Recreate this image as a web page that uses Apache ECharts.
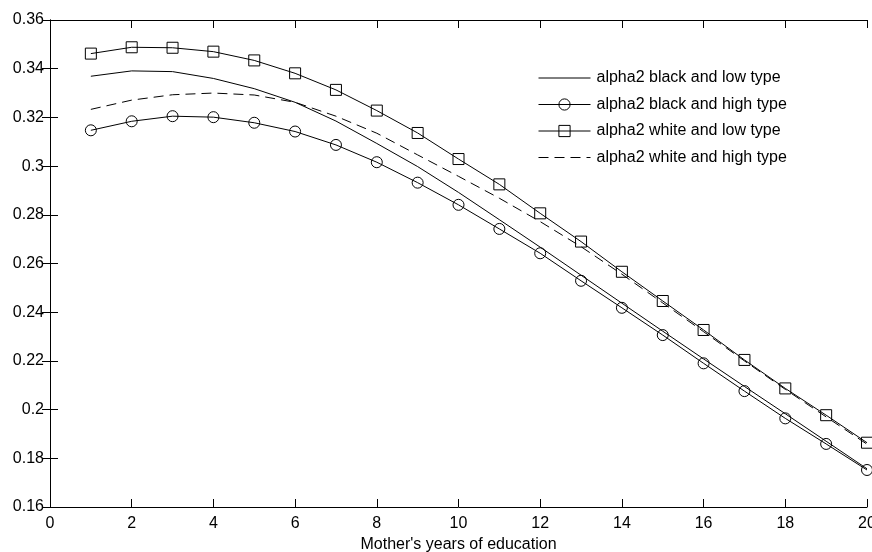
<!DOCTYPE html>
<html>
<head>
<meta charset="utf-8">
<script src="https://cdn.jsdelivr.net/npm/echarts@6/dist/echarts.min.js"></script>
<style>
  html, body { margin: 0; padding: 0; background: #fff; }
  #chart { width: 872px; height: 552px; }
</style>
</head>
<body>
<div id="chart"></div>
<script>
// Mother's years of education (x values)
const years = [1, 2, 3, 4, 5, 6, 7, 8, 9, 10, 11, 12, 13, 14, 15, 16, 17, 18, 19, 20];

// alpha2 estimates by group
const blackLow  = [0.3369, 0.3391, 0.3388, 0.3360, 0.3318, 0.3262, 0.3185, 0.3093, 0.2998, 0.2892,
                   0.2780, 0.2667, 0.2552, 0.2437, 0.2322, 0.2208, 0.2095, 0.1983, 0.1870, 0.1757];
const blackHigh = [0.3147, 0.3184, 0.3205, 0.3201, 0.3178, 0.3142, 0.3087, 0.3016, 0.2932, 0.2841,
                   0.2742, 0.2642, 0.2529, 0.2418, 0.2306, 0.2190, 0.2076, 0.1964, 0.1859, 0.1752];
const whiteLow  = [0.3462, 0.3488, 0.3486, 0.3470, 0.3434, 0.3381, 0.3313, 0.3228, 0.3136, 0.3029,
                   0.2925, 0.2806, 0.2690, 0.2566, 0.2446, 0.2327, 0.2204, 0.2087, 0.1977, 0.1864];
const whiteHigh = [0.3233, 0.3271, 0.3293, 0.3300, 0.3292, 0.3262, 0.3205, 0.3135, 0.3046, 0.2958,
                   0.2868, 0.2772, 0.2669, 0.2556, 0.2438, 0.2320, 0.2200, 0.2083, 0.1970, 0.1858];

const seriesNames = [
  'alpha2 black and low type',
  'alpha2 black and high type',
  'alpha2 white and low type',
  'alpha2 white and high type'
];

// x tick labels / y tick labels
const xTicks = [0, 2, 4, 6, 8, 10, 12, 14, 16, 18, 20];
const yTicks = [0.16, 0.18, 0.2, 0.22, 0.24, 0.26, 0.28, 0.3, 0.32, 0.34, 0.36];

const pairs = vals => years.map((x, i) => [x, vals[i]]);

const FONT = 'Liberation Sans';
const axisLineStyle = { color: '#000', width: 1 };
const hollow = { color: 'rgba(0,0,0,0)', borderColor: '#000', borderWidth: 1 };
const invisible = { color: 'rgba(0,0,0,0)', borderColor: 'rgba(0,0,0,0)', borderWidth: 0 };

function baseSeries(name, vals, extra) {
  return Object.assign({
    name: name,
    type: 'line',
    data: pairs(vals),
    clip: false,
    animation: false,
    symbol: 'circle',
    symbolSize: 0,
    showSymbol: false,
    lineStyle: { color: '#000', width: 1 },
    itemStyle: invisible
  }, extra);
}

const chart = echarts.init(document.getElementById('chart'), null, { renderer: 'canvas' });
chart.setOption({
  backgroundColor: '#fff',
  animation: false,
  grid: { left: 50, right: 5, top: 20, bottom: 45, containLabel: false, outerBoundsMode: 'none' },
  legend: {
    orient: 'vertical',
    left: 538,
    top: 70,
    itemWidth: 52,
    itemHeight: 14,
    itemGap: 10.5,
    padding: 0,
    lineStyle: { width: 1 },
    itemStyle: { borderWidth: 1 },
    textStyle: { fontFamily: FONT, fontSize: 16, color: '#000', padding: [0, 0, 0, 1] },
    data: seriesNames
  },
  xAxis: [
    {
      type: 'value', min: xTicks[0], max: xTicks[xTicks.length - 1], interval: 2,
      position: 'bottom',
      name: "Mother's years of education",
      nameLocation: 'middle', nameGap: 30,
      nameTextStyle: { fontFamily: FONT, fontSize: 16, color: '#000' },
      axisLine: { show: true, lineStyle: axisLineStyle },
      axisTick: { show: true, inside: true, length: 8, lineStyle: axisLineStyle },
      axisLabel: { fontFamily: FONT, fontSize: 16, color: '#000', margin: 9 },
      splitLine: { show: false }
    },
    {
      type: 'value', min: xTicks[0], max: xTicks[xTicks.length - 1], interval: 2,
      position: 'top',
      axisLine: { show: true, lineStyle: axisLineStyle },
      axisTick: { show: true, inside: true, length: 8, lineStyle: axisLineStyle },
      axisLabel: { show: false },
      splitLine: { show: false }
    }
  ],
  yAxis: [
    {
      type: 'value', min: yTicks[0], max: yTicks[yTicks.length - 1], interval: 0.02,
      position: 'left',
      axisLine: { show: true, lineStyle: axisLineStyle },
      axisTick: { show: true, inside: true, length: 8, lineStyle: axisLineStyle },
      axisLabel: {
        fontFamily: FONT, fontSize: 16, color: '#000', margin: 6,
        formatter: v => String(+v.toFixed(2))
      },
      splitLine: { show: false }
    },
    {
      type: 'value', min: yTicks[0], max: yTicks[yTicks.length - 1], interval: 0.02,
      position: 'right',
      axisLine: { show: true, lineStyle: axisLineStyle },
      axisTick: { show: true, inside: true, length: 8, lineStyle: axisLineStyle },
      axisLabel: { show: false },
      splitLine: { show: false }
    }
  ],
  series: [
    baseSeries(seriesNames[0], blackLow, {}),
    baseSeries(seriesNames[1], blackHigh, {
      symbol: 'circle', symbolSize: 11, showSymbol: true, itemStyle: hollow
    }),
    baseSeries(seriesNames[2], whiteLow, {
      symbol: 'rect', symbolSize: 11, showSymbol: true, itemStyle: hollow
    }),
    baseSeries(seriesNames[3], whiteHigh, {
      lineStyle: { color: '#000', width: 1, type: [10, 6] }
    })
  ]
});
</script>
</body>
</html>
